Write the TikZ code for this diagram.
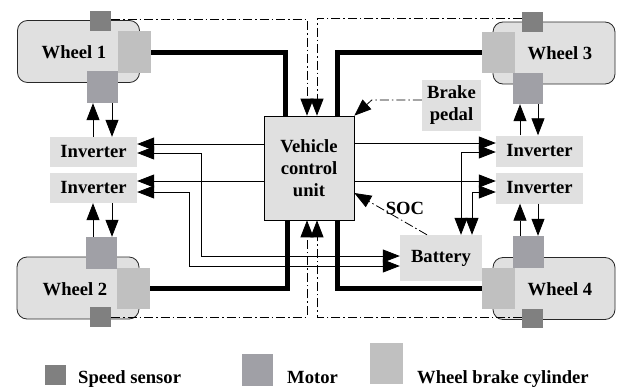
\documentclass[tikz,border=0pt]{standalone}
\usepackage{fontspec}
\setmainfont{Liberation Serif}
\usetikzlibrary{arrows.meta}
\definecolor{evbox}{RGB}{224,224,224}
\definecolor{evsens}{RGB}{128,128,128}
\definecolor{evmot}{RGB}{160,160,166}
\definecolor{evcyl}{RGB}{192,192,192}
\definecolor{evedge}{RGB}{40,40,40}
\def\evPart#1#2#3#4#5{%
  \node[evpart, fill=#2, minimum width=#4, minimum height=#5] (#1) at (#3) {};}
\def\evBlock#1#2#3#4#5{%
  \node[evblk, minimum width=#3, minimum height=#4] (#1) at (#2) {#5};}

\begin{document}
\begin{tikzpicture}[
    x=1pt, y=-1pt,
    evwheel/.style = {draw=evedge, fill=evbox, rounded corners=10pt, line width=0.8pt,
                      minimum width=122pt, minimum height=62pt, inner sep=0pt},
    evpart/.style  = {inner sep=0pt},
    evtxt/.style   = {font=\fontsize{18.6}{22}\selectfont\bfseries, inner sep=0pt},
    evblk/.style   = {evtxt, fill=evbox, align=center},
    evpow/.style   = {line width=5pt},
    evsig/.style   = {-{Triangle[length=17pt,width=13pt]}, line width=0.8pt},
    evbi/.style    = {{Triangle[length=17pt,width=13pt]}-{Triangle[length=17pt,width=13pt]},
                      line width=0.8pt},
    evdd/.style    = {evsig, dash pattern=on 9pt off 3pt on 1.5pt off 3pt}]

  \useasboundingbox (0,0) rectangle (619,388);

  %% ---- wheels ------------------------------------------------------
  \node[evwheel] (wheel1) at (78.5,51.5) {};
  \node[evwheel] (wheel2) at (78,288)    {};
  \node[evwheel] (wheel3) at (554,53)    {};
  \node[evwheel] (wheel4) at (554,288.5) {};
  \node[evtxt] (wlbl1) at (74,52)   {Wheel 1};
  \node[evtxt] (wlbl2) at (75,289)  {Wheel 2};
  \node[evtxt] (wlbl3) at (560,53)  {Wheel 3};
  \node[evtxt] (wlbl4) at (560,289) {Wheel 4};

  \evPart{ss1}{evsens}{100.5,21}{21pt}{20pt}
  \evPart{cyl1}{evcyl}{134.5,52}{33pt}{42pt}
  \evPart{mot1}{evmot}{102.5,87}{31pt}{32pt}

  \evPart{mot2}{evmot}{101.5,253}{31pt}{32pt}
  \evPart{cyl2}{evcyl}{133.5,288.5}{33pt}{41pt}
  \evPart{ss2}{evsens}{100.5,317}{21pt}{20pt}

  \evPart{ss3}{evsens}{532.5,22}{21pt}{20pt}
  \evPart{cyl3}{evcyl}{498.5,52.5}{33pt}{41pt}
  \evPart{mot3}{evmot}{528,88.5}{30pt}{31pt}

  \evPart{mot4}{evmot}{528.5,252}{31pt}{32pt}
  \evPart{cyl4}{evcyl}{498.5,288.5}{33pt}{41pt}
  \evPart{ss4}{evsens}{532.5,318.5}{21pt}{19pt}

  %% ---- blocks ------------------------------------------------------
  \evBlock{inv1}{93.5,152}{87pt}{30pt}{Inverter}
  \evBlock{inv2}{93.5,188}{87pt}{30pt}{Inverter}
  \evBlock{inv3}{539.5,151}{87pt}{31pt}{Inverter}
  \evBlock{inv4}{539.5,188}{87pt}{31pt}{Inverter}
  \evBlock{pedal}{451.5,105.5}{59pt}{51pt}{Brake\\pedal}
  \evBlock{bat}{441,258}{82pt}{46pt}{Battery}
  \node[evblk, draw, line width=0.6pt, minimum width=90pt, minimum height=104pt]
    (vcu) at (309,168) {Vehicle\\control\\unit};
  \node[evtxt] (soc) at (405,208) {SOC};

  %% ---- brake lines -------------------------------------------------
  \draw[evpow] (cyl1.east) -| ([xshift=-24pt]vcu.north);
  \draw[evpow] (cyl3.west) -| ([xshift=28pt]vcu.north);
  \draw[evpow] (cyl2.east) -| ([xshift=-22pt]vcu.south);
  \draw[evpow] (cyl4.west) -| ([xshift=28pt]vcu.south);

  %% ---- speed, pedal and SOC signals --------------------------------
  \draw[evdd] ([yshift=2pt]ss1.east) -| ([xshift=-2pt]vcu.north);
  \draw[evdd] ([yshift=4pt]ss3.west) -| ([xshift=8pt]vcu.north);
  \draw[evdd] (ss2.east) -| ([xshift=-2pt]vcu.south);
  \draw[evdd] ([yshift=1.5pt]ss4.west) -| ([xshift=8pt]vcu.south);
  \draw[evdd] ([yshift=5.5pt]pedal.west) -- ++(-50,0) -- (vcu.north east);
  \draw[evdd] ([xshift=-14pt]bat.north) -- ([yshift=-25pt]vcu.east);

  %% ---- inverter commands and power ---------------------------------
  \draw[evsig] ([yshift=8pt]inv1.east -| vcu.west) -- ([yshift=8pt]inv1.east);
  \draw[evsig] ([yshift=7pt]inv2.east -| vcu.west) -- ([yshift=7pt]inv2.east);
  \draw[evsig] ([yshift=8pt]inv3.west -| vcu.east) -- ([yshift=8pt]inv3.west);
  \draw[evsig] ([yshift=7pt]inv4.west -| vcu.east) -- ([yshift=7pt]inv4.west);
  \draw[evbi] ([yshift=-1pt]inv1.east) -| ([xshift=-198pt,yshift=2pt]bat.west)
    -- ([yshift=2pt]bat.west);
  \draw[evbi] ([yshift=-4pt]inv2.east) -| ([xshift=-210pt,yshift=-8pt]bat.west)
    -- ([yshift=-8pt]bat.west);
  \draw[evbi] ([xshift=20pt]bat.north) |- ([yshift=-1pt]inv3.west);
  \draw[evbi] ([xshift=31pt]bat.north) |- ([yshift=-4pt]inv4.west);

  %% ---- motor <-> inverter ------------------------------------------
  \draw[evsig] ([xshift=-9.5pt]mot1.south |- inv1.north) -- ([xshift=-9.5pt]mot1.south);
  \draw[evsig] ([xshift=9.5pt]mot1.south) -- ([xshift=9.5pt]mot1.south |- inv1.north);
  \draw[evsig] ([xshift=-8.5pt]mot2.north) -- ([xshift=-8.5pt]mot2.north |- inv2.south);
  \draw[evsig] ([xshift=10.5pt]mot2.north |- inv2.south) -- ([xshift=10.5pt]mot2.north);
  \draw[evsig] ([xshift=-8pt]mot3.south |- inv3.north) -- ([xshift=-8pt]mot3.south);
  \draw[evsig] ([xshift=10pt]mot3.south) -- ([xshift=10pt]mot3.south |- inv3.north);
  \draw[evsig] ([xshift=-8.5pt]mot4.north) -- ([xshift=-8.5pt]mot4.north |- inv4.south);
  \draw[evsig] ([xshift=9.5pt]mot4.north |- inv4.south) -- ([xshift=9.5pt]mot4.north);

  %% ---- legend ------------------------------------------------------
  \evPart{lss}{evsens}{55.5,375}{21pt}{20pt}
  \evPart{lmot}{evmot}{257.5,370}{31pt}{32pt}
  \evPart{lcyl}{evcyl}{386.5,363.5}{33pt}{41pt}
  \node[evtxt, anchor=base west] (lsstxt)  at (78,383)  {Speed sensor};
  \node[evtxt, anchor=base west] (lmottxt) at (287,383) {Motor};
  \node[evtxt, anchor=base west] (lcyltxt) at (417,383) {Wheel brake cylinder};
\end{tikzpicture}
\end{document}
